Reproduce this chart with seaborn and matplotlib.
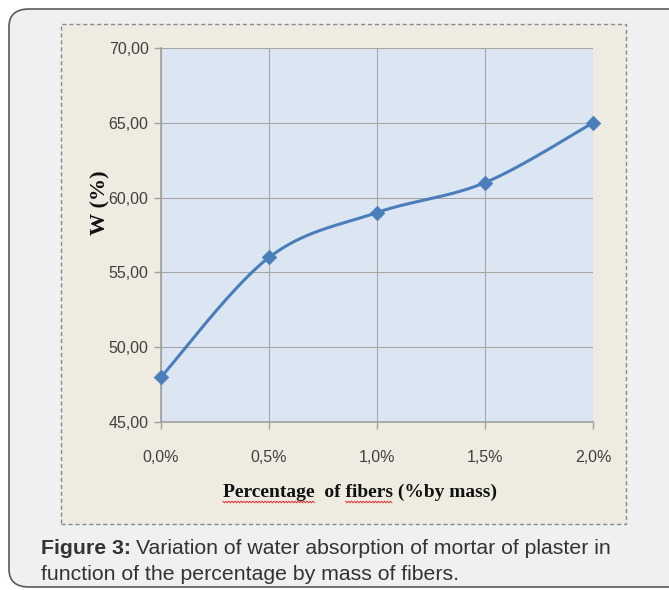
import numpy as np
import pandas as pd
import matplotlib
matplotlib.use("Agg")
import matplotlib.pyplot as plt
from matplotlib.patches import FancyBboxPatch, Rectangle
from matplotlib.lines import Line2D
import seaborn as sns

# Fiber content (% by mass) and measured water absorption W (%)
fiber_pct = [0.0, 0.5, 1.0, 1.5, 2.0]
absorption = [48.0, 56.0, 59.0, 61.0, 65.0]
x_tick_labels = ["0,0%", "0,5%", "1,0%", "1,5%", "2,0%"]
y_ticks = [45, 50, 55, 60, 65, 70]
y_tick_labels = ["45,00", "50,00", "55,00", "60,00", "65,00", "70,00"]

W, H = 669, 590
sns.set_theme(style="white")
plt.rcParams["font.family"] = ["Liberation Sans", "DejaVu Sans"]

fig = plt.figure(figsize=(W / 100, H / 100), dpi=100)
fig.patch.set_facecolor("white")


def fx(px):
    return px / W


def fy(py):
    return 1 - py / H


# outer rounded frame
frame = FancyBboxPatch((fx(9), fy(587)), fx(669 - 9 + 20), fy(9) - fy(587),
                       boxstyle="round,pad=0,rounding_size=0.03",
                       transform=fig.transFigure, facecolor="#eff0f2",
                       edgecolor="#5a5a5a", linewidth=1.2, zorder=0)
fig.patches.append(frame)

# chart area with dashed border
chart_bg = Rectangle((fx(61), fy(524)), fx(626 - 61), fy(24) - fy(524),
                     transform=fig.transFigure, facecolor="#eeebe0",
                     edgecolor="#8a8a8a", linewidth=1.0, linestyle=(0, (3, 2)),
                     zorder=1)
fig.patches.append(chart_bg)

ax = fig.add_axes([fx(161), fy(422), fx(593 - 161), fy(48) - fy(422)])
ax.set_facecolor("#dce6f2")
ax.set_zorder(2)


def smooth_curve(xs, ys, n=60):
    """Piecewise cubic Bezier through the points (Catmull-Rom style)."""
    p = np.column_stack([xs, ys]).astype(float)
    pts = []
    for i in range(len(p) - 1):
        p0 = p[i - 1] if i > 0 else p[i]
        p1, p2 = p[i], p[i + 1]
        p3 = p[i + 2] if i + 2 < len(p) else p[i + 1]
        c1 = p1 + (p2 - p0) / 6
        c2 = p2 - (p3 - p1) / 6
        t = np.linspace(0, 1, n)[:, None]
        seg = ((1 - t) ** 3) * p1 + 3 * ((1 - t) ** 2) * t * c1 \
            + 3 * (1 - t) * t ** 2 * c2 + t ** 3 * p2
        pts.append(seg if i == 0 else seg[1:])
    return np.vstack(pts)


curve = smooth_curve(fiber_pct, absorption)
curve_df = pd.DataFrame({"x": curve[:, 0], "y": curve[:, 1]})
data_df = pd.DataFrame({"x": fiber_pct, "y": absorption})

line_color = "#4a7ebb"
sns.lineplot(data=curve_df, x="x", y="y", sort=False, ax=ax,
             color=line_color, linewidth=2.2, zorder=3)
sns.scatterplot(data=data_df, x="x", y="y", ax=ax, marker="D", s=55,
                color=line_color, edgecolor=line_color, linewidth=0.5, zorder=4,
                clip_on=False)

ax.set_xlim(0, 2.0)
ax.set_ylim(45, 70)
ax.set_xticks(fiber_pct)
ax.set_yticks(y_ticks)

tick_font = dict(family=["Liberation Sans", "DejaVu Sans"], size=11.5, color="#404040")
ax.set_xticklabels(x_tick_labels, **tick_font)
ax.set_yticklabels(y_tick_labels, **tick_font)

ax.grid(True, color="#a6a6a6", linewidth=0.8)
ax.set_axisbelow(True)
for side in ["top", "right"]:
    ax.spines[side].set_visible(False)
for side in ["left", "bottom"]:
    ax.spines[side].set_color("#a0a0a0")
    ax.spines[side].set_linewidth(1.2)
ax.tick_params(axis="both", which="both", length=5, width=1, color="#a0a0a0",
               direction="out", bottom=True, left=True)
ax.tick_params(axis="x", pad=15)
ax.tick_params(axis="y", pad=4)
ax.set_xlabel("")
ax.set_ylabel("")

serif_bold = dict(family=["Liberation Serif", "DejaVu Serif"], weight="bold",
                  color="#111111")
xlab_text = "Percentage  of fibers (%by mass)"
xlab = fig.text(fx(360), fy(492), xlab_text, ha="center", va="center",
                size=14, **serif_bold)
fig.text(fx(100), fy(203), "W (%)", ha="center", va="center", rotation=90,
         size=16, **serif_bold)

# spell-check squiggles under two words of the axis title
fig.canvas.draw()
renderer = fig.canvas.get_renderer()
x_start = xlab.get_window_extent(renderer).x0


def prefix_width(s):
    t = fig.text(0, 0, s, size=14, **serif_bold)
    w = t.get_window_extent(renderer).width
    t.remove()
    return w


for word in ["Percentage", "fibers"]:
    i = xlab_text.index(word)
    a = x_start + prefix_width(xlab_text[:i]) if i else x_start
    b = x_start + prefix_width(xlab_text[:i + len(word)])
    xs = np.arange(a, b, 1.5)
    ys = (H - 502) + np.where(np.arange(len(xs)) % 2 == 0, 0.8, -0.8)
    fig.lines.append(Line2D(xs / W, ys / H, transform=fig.transFigure,
                            color="#e03030", linewidth=0.7, zorder=5))

# caption
cap_color = "#333333"
t1 = fig.text(fx(41), fy(548), "Figure 3:", ha="left", va="center", size=15.3,
              weight="bold", color=cap_color)
bb = t1.get_window_extent(renderer)
fig.text(bb.x1 / W + fx(5), fy(548), "Variation of water absorption of mortar of plaster in",
         ha="left", va="center", size=15.3, color=cap_color)
fig.text(fx(41), fy(575), "function of the percentage by mass of fibers.",
         ha="left", va="center", size=15.3, color=cap_color)

fig.savefig("out.png", dpi=100, facecolor=fig.get_facecolor())
